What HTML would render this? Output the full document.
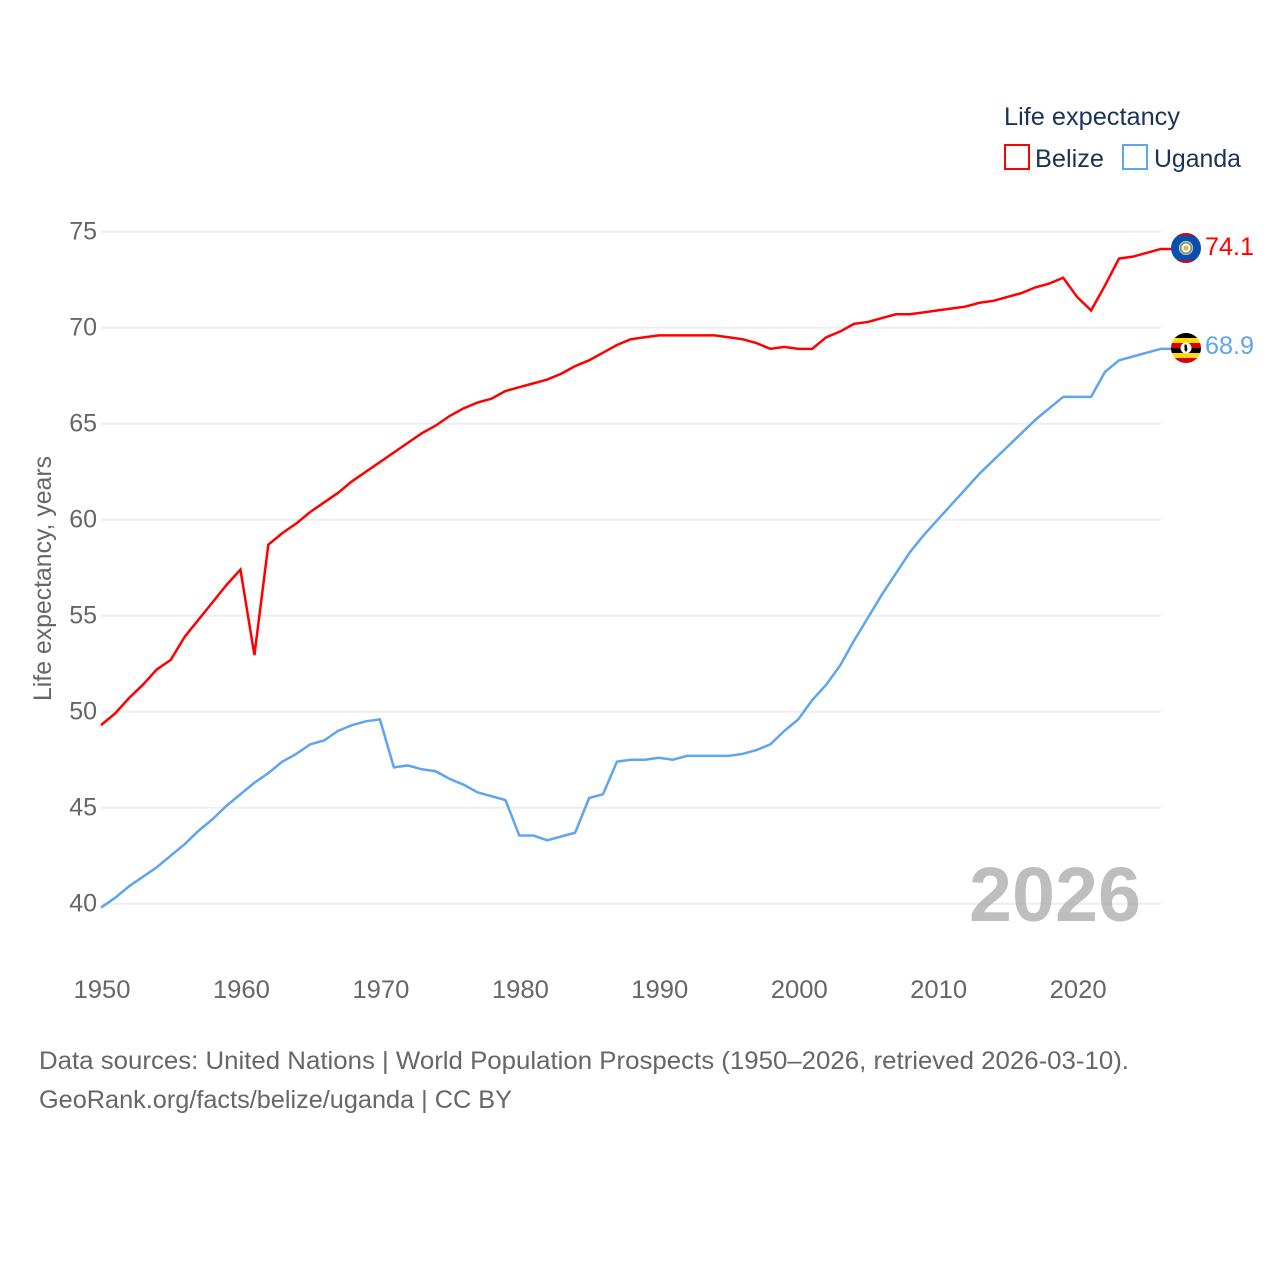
<!DOCTYPE html>
<html lang="en">
<head>
<meta charset="utf-8">
<title>Life expectancy: Belize and Uganda</title>
<style>
html,body{margin:0;padding:0;background:#fff;}
svg{display:block;font-family:"Liberation Sans",sans-serif;}
</style>
</head>
<body>
<svg id="chart" xmlns="http://www.w3.org/2000/svg" width="1280" height="1280" viewBox="0 0 1280 1280">
  <defs>
    <clipPath id="clip-bz"><circle cx="1186" cy="248" r="15"/></clipPath>
    <clipPath id="clip-ug"><circle cx="1186" cy="348" r="15"/></clipPath>
  </defs>
  <rect x="0" y="0" width="1280" height="1280" fill="#fff"/>
  <g id="grid"></g>
  <g id="yticks"></g>
  <g id="xticks"></g>
  <text transform="translate(51,701) rotate(-90)" font-size="25" fill="#666" textLength="245" lengthAdjust="spacingAndGlyphs">Life expectancy, years</text>
  <text x="969" y="921" font-size="77" font-weight="700" fill="#a8a8a8" fill-opacity="0.75" textLength="172" lengthAdjust="spacingAndGlyphs">2026</text>
  <g id="series"></g>

  <g clip-path="url(#clip-bz)">
    <rect x="1171" y="233" width="30" height="30" fill="#0a4fae"/>
    <rect x="1171" y="233" width="30" height="3" fill="#b3122f"/>
    <rect x="1171" y="260" width="30" height="3" fill="#b3122f"/>
    <circle cx="1186" cy="248" r="7" fill="#fff"/>
    <circle cx="1186" cy="248" r="5.5" fill="none" stroke="#7f9a6a" stroke-width="2"/>
    <circle cx="1186" cy="248" r="2.6" fill="#d9b65a"/>
  </g>
  <g clip-path="url(#clip-ug)">
    <rect x="1171" y="333" width="30" height="5" fill="#000"/>
    <rect x="1171" y="338" width="30" height="5" fill="#fcdc04"/>
    <rect x="1171" y="343" width="30" height="5" fill="#d90000"/>
    <rect x="1171" y="348" width="30" height="5" fill="#000"/>
    <rect x="1171" y="353" width="30" height="5" fill="#fcdc04"/>
    <rect x="1171" y="358" width="30" height="5" fill="#d90000"/>
    <circle cx="1186" cy="348" r="5.5" fill="#fff"/>
    <path d="M1184.500 344.500 L1186.500 344.500 L1187.500 349.500 L1186 352 L1184.500 350 Z" fill="#000"/>
  </g>
  <text x="1205" y="255" font-size="25" fill="#ff0000" textLength="49" lengthAdjust="spacingAndGlyphs">74.1</text>
  <text x="1205" y="354" font-size="25" fill="#5da5ee" textLength="49" lengthAdjust="spacingAndGlyphs">68.9</text>

  <g>
    <text x="1004" y="125" font-size="25" fill="#1b3358" textLength="176" lengthAdjust="spacingAndGlyphs">Life expectancy</text>
    <rect x="1005" y="145" width="24" height="24" fill="#fff" stroke="#ff0000" stroke-width="2"/>
    <text x="1035" y="167" font-size="25" fill="#1b3358" textLength="69" lengthAdjust="spacingAndGlyphs">Belize</text>
    <rect x="1123" y="145" width="24" height="24" fill="#fff" stroke="#5da5ee" stroke-width="2"/>
    <text x="1154" y="167" font-size="25" fill="#1b3358" textLength="87" lengthAdjust="spacingAndGlyphs">Uganda</text>
  </g>

  <text x="39" y="1069" font-size="25" fill="#666" textLength="1090" lengthAdjust="spacingAndGlyphs">Data sources: United Nations | World Population Prospects (1950–2026, retrieved 2026-03-10).</text>
  <text x="39" y="1108" font-size="25" fill="#666" textLength="473" lengthAdjust="spacingAndGlyphs">GeoRank.org/facts/belize/uganda | CC BY</text>
</svg>
<script>
const startYear = 1950;
const yTickValues = [40, 45, 50, 55, 60, 65, 70, 75];
const xTickValues = [1950, 1960, 1970, 1980, 1990, 2000, 2010, 2020];
const belizeValues = [49.3,49.9,50.7,51.4,52.2,52.7,53.9,54.8,55.7,56.6,57.4,52.95,58.7,59.3,59.8,60.4,60.9,61.4,62.0,62.5,63.0,63.5,64.0,64.5,64.9,65.4,65.8,66.1,66.3,66.7,66.9,67.1,67.3,67.6,68.0,68.3,68.7,69.1,69.4,69.5,69.6,69.6,69.6,69.6,69.6,69.5,69.4,69.2,68.9,69.0,68.9,68.9,69.5,69.8,70.2,70.3,70.5,70.7,70.7,70.8,70.9,71.0,71.1,71.3,71.4,71.6,71.8,72.1,72.3,72.6,71.6,70.9,72.2,73.6,73.7,73.9,74.1];
const ugandaValues = [39.8,40.3,40.9,41.4,41.9,42.5,43.1,43.8,44.4,45.1,45.7,46.3,46.8,47.4,47.8,48.3,48.5,49.0,49.3,49.5,49.6,47.1,47.2,47.0,46.9,46.5,46.2,45.8,45.6,45.4,43.55,43.55,43.3,43.5,43.7,45.5,45.7,47.4,47.5,47.5,47.6,47.5,47.7,47.7,47.7,47.7,47.8,48.0,48.3,49.0,49.6,50.6,51.4,52.4,53.7,54.9,56.1,57.2,58.3,59.2,60.0,60.8,61.6,62.4,63.1,63.8,64.5,65.2,65.8,66.4,66.4,66.4,67.7,68.3,68.5,68.7,68.9];

const NS = 'http://www.w3.org/2000/svg';
function xScale(year) { return 101 + (year - 1950) * 13.945; }
function yScale(value) { return 903.7 - (value - 40) * 19.2; }
function make(tag, attrs, text) {
  const el = document.createElementNS(NS, tag);
  for (const k in attrs) el.setAttribute(k, attrs[k]);
  if (text !== undefined) el.textContent = text;
  return el;
}
const gridG = document.getElementById('grid');
const yG = document.getElementById('yticks');
const xG = document.getElementById('xticks');
const seriesG = document.getElementById('series');

yTickValues.forEach(function (v) {
  const line = make('line', {x1: 102, x2: 1161, y1: yScale(v), y2: yScale(v), stroke: '#eeeeee', 'stroke-width': 2});
  
  
  gridG.appendChild(line);
  const label = make('text', {x: 97, y: yScale(v) + 8, 'text-anchor': 'end', 'font-size': 25, fill: '#666'}, String(v));
  
  
  yG.appendChild(label);
});

xTickValues.forEach(function (v) {
  const label = make('text', {x: xScale(v) + 1, y: 998, 'text-anchor': 'middle', 'font-size': 25, fill: '#666', textLength: 57, lengthAdjust: 'spacingAndGlyphs'}, String(v));
  
  
  xG.appendChild(label);
});

function seriesPoints(values) {
  const pts = values.map(function (v, i) { return xScale(startYear + i).toFixed(2) + ',' + yScale(v).toFixed(2); });
  pts.push('1172,' + yScale(values[values.length - 1]).toFixed(2));
  return pts.join(' ');
}

const belizeLine = make('polyline', {points: seriesPoints(belizeValues), fill: 'none', stroke: '#ff0000', 'stroke-width': 2.5, 'stroke-linejoin': 'miter'});


seriesG.appendChild(belizeLine);

const ugandaLine = make('polyline', {points: seriesPoints(ugandaValues), fill: 'none', stroke: '#5da5ee', 'stroke-width': 2.5, 'stroke-linejoin': 'miter'});


seriesG.appendChild(ugandaLine);
</script>
</body>
</html>
